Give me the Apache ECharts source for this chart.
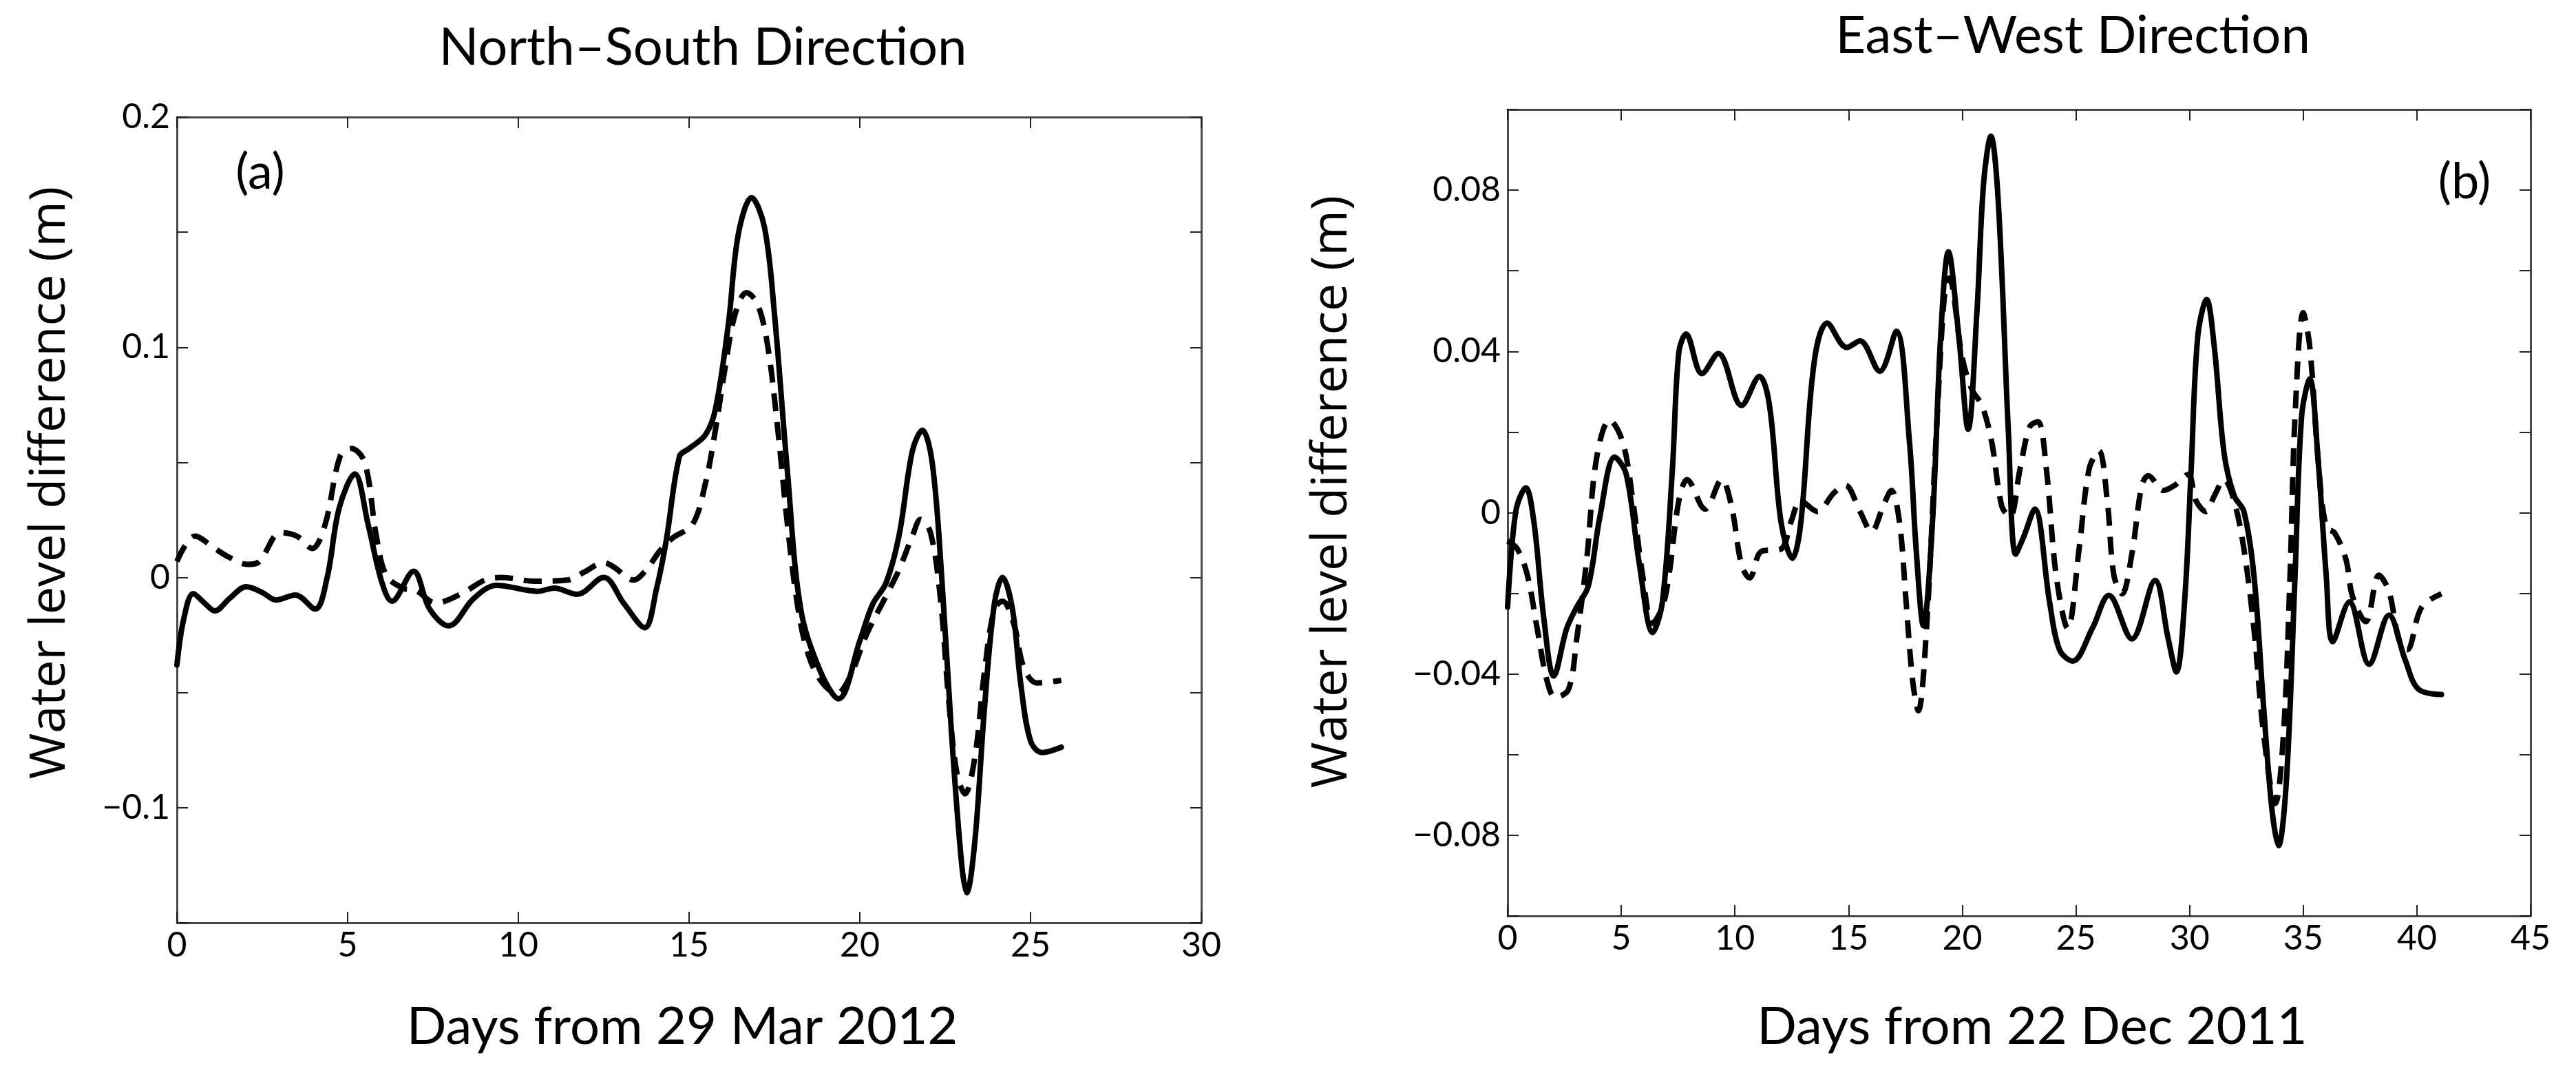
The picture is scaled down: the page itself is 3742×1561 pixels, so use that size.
<!DOCTYPE html>
<html>
<head>
<meta charset="utf-8">
<script src="https://cdn.jsdelivr.net/npm/echarts@6/dist/echarts.min.js"></script>
<style>
  html, body { margin: 0; padding: 0; background: #fff; }
  #main { width: 3742px; height: 1561px; }
</style>
</head>
<body>
<div id="main"></div>
<script>
// panel (a): North-South, days from 29 Mar 2012  [day, water level difference m]
var nsSolid = [
  [0, -0.038], [0.2, -0.018], [0.48, -0.007], [0.8, -0.011], [1.11, -0.0145], [1.55, -0.009],
  [2.03, -0.004], [2.5, -0.0065], [2.9, -0.0098], [3.47, -0.0076], [4.05, -0.0137], [4.4, 0.0],
  [4.75, 0.03], [5.21, 0.045], [5.6, 0.023], [6.0, -0.002], [6.3, -0.0103], [6.93, 0.0027],
  [7.4, -0.0137], [7.96, -0.021], [8.7, -0.009], [9.36, -0.0034], [10.57, -0.006], [11.05, -0.0046],
  [11.72, -0.0073], [12.5, 0.0], [13.1, -0.0115], [13.7, -0.0218], [14.05, -0.0046], [14.33, 0.016],
  [14.72, 0.0527], [15.0, 0.056], [15.48, 0.062], [15.77, 0.073], [16.15, 0.110], [16.44, 0.149],
  [16.83, 0.165], [17.21, 0.152], [17.5, 0.1145], [17.88, 0.046], [18.27, -0.0137], [18.85, -0.041],
  [19.38, -0.0527], [20.0, -0.0275], [20.38, -0.0115], [20.77, -0.0023], [21.15, 0.0183], [21.54, 0.055],
  [21.83, 0.064], [22.12, 0.050], [22.4, 0.0], [22.69, -0.0687], [22.98, -0.124], [23.13, -0.137],
  [23.37, -0.1145], [23.65, -0.057], [23.94, -0.0115], [24.18, 0.0], [24.47, -0.0137], [24.71, -0.0458],
  [25.0, -0.071], [25.34, -0.076], [25.9, -0.0737]
];
var nsDashed = [
  [0, 0.007], [0.53, 0.018], [1.11, 0.0126], [1.5, 0.009], [2.07, 0.0057], [2.41, 0.0069],
  [3.04, 0.0195], [3.52, 0.0179], [3.96, 0.0126], [4.34, 0.023], [4.78, 0.0527], [5.11, 0.056],
  [5.5, 0.050], [5.84, 0.018], [6.13, 0.001], [6.61, -0.0046], [7.0, -0.0057], [7.58, -0.011],
  [8.35, -0.0069], [9.02, -0.0011], [9.5, 0.0], [10.47, -0.0016], [11.44, -0.0011], [11.92, 0.0023],
  [12.5, 0.0064], [12.79, 0.0046], [13.37, -0.0011], [13.75, 0.0034], [14.14, 0.0115], [14.52, 0.0172],
  [15.1, 0.023], [15.48, 0.041], [15.77, 0.064], [16.06, 0.0916], [16.35, 0.1145], [16.68, 0.1237],
  [17.0, 0.119], [17.3, 0.1008], [17.6, 0.064], [17.88, 0.023], [18.17, -0.0115], [18.46, -0.032],
  [18.85, -0.0447], [19.33, -0.0504], [19.7, -0.0435], [20.19, -0.025], [20.77, -0.008], [21.15, 0.0034],
  [21.54, 0.018], [21.78, 0.0252], [22.07, 0.0195], [22.36, -0.009], [22.6, -0.0527], [22.84, -0.0847],
  [23.08, -0.094], [23.37, -0.078], [23.65, -0.041], [23.94, -0.0137], [24.18, -0.0103], [24.52, -0.0206],
  [24.8, -0.039], [25.19, -0.0458], [25.9, -0.0447]
];

// panel (b): East-West, days from 22 Dec 2011
var ewSolid = [
  [0, -0.0234], [0.36, 0.0003], [0.8, 0.0062], [1.16, -0.0024], [1.59, -0.026], [2.03, -0.0405],
  [2.6, -0.0287], [3.04, -0.0234], [3.55, -0.0182], [4.06, -0.001], [4.71, 0.0138], [5.22, 0.0095],
  [5.8, -0.0129], [6.38, -0.0297], [6.81, -0.0221], [7.25, 0.0108], [7.53, 0.0397], [7.85, 0.0443],
  [8.55, 0.0345], [9.27, 0.0395], [10.29, 0.0266], [11.08, 0.0338], [11.52, 0.0266], [12.03, -0.0024],
  [12.53, -0.0113], [12.9, -0.0024], [13.48, 0.0371], [14.06, 0.047], [14.92, 0.041], [15.5, 0.0426],
  [16.37, 0.0351], [17.1, 0.045], [17.68, 0.0174], [17.97, -0.0089], [18.29, -0.028], [18.69, -0.0024],
  [19.05, 0.0437], [19.39, 0.0647], [19.85, 0.0437], [20.26, 0.0207], [20.65, 0.0503], [20.94, 0.0818],
  [21.26, 0.0934], [21.59, 0.0766], [22.03, 0.02], [22.35, -0.0103], [22.7, -0.006], [23.19, 0.0009],
  [23.84, -0.0221], [24.28, -0.034], [24.86, -0.0368], [25.72, -0.0287], [26.45, -0.0205], [27.46, -0.0313],
  [28.48, -0.0168], [29.06, -0.0313], [29.42, -0.0395], [29.78, -0.0221], [30.07, 0.0108], [30.36, 0.0437],
  [30.75, 0.0529], [31.09, 0.041], [31.52, 0.0147], [31.96, 0.0042], [32.39, 0.0003], [32.83, -0.0155],
  [33.26, -0.0484], [33.62, -0.0734], [33.91, -0.0826], [34.27, -0.0655], [34.64, -0.0155], [34.93, 0.024],
  [35.29, 0.0332], [35.65, 0.0134], [36.01, -0.0155], [36.3, -0.032], [37.03, -0.0221], [37.9, -0.0376],
  [38.77, -0.0254], [39.49, -0.0366], [40.07, -0.0438], [41.08, -0.0451]
];
var ewDashed = [
  [0, -0.007], [0.43, -0.009], [0.87, -0.0155], [1.3, -0.0287], [1.74, -0.0418], [2.1, -0.0458],
  [2.68, -0.0438], [3.04, -0.0313], [3.48, -0.0116], [3.91, 0.0134], [4.49, 0.023], [5.07, 0.0174],
  [5.51, 0.0029], [5.94, -0.0155], [6.38, -0.0274], [6.81, -0.0234], [7.1, -0.0155], [7.53, 0.0029],
  [7.9, 0.0082], [8.69, 0.0009], [9.42, 0.0082], [9.85, 0.0016], [10.29, -0.0129], [10.65, -0.0162],
  [11.16, -0.0096], [12.03, -0.009], [12.46, -0.0024], [12.9, 0.0029], [13.62, 0.0003], [14.35, 0.0049],
  [14.85, 0.0068], [15.5, 0.0003], [16.01, -0.0047], [16.52, 0.0016], [16.88, 0.0055], [17.24, -0.0024],
  [17.53, -0.0221], [17.82, -0.0418], [18.07, -0.0491], [18.4, -0.0313], [18.84, 0.0174], [19.2, 0.0529],
  [19.42, 0.0582], [20.0, 0.0384], [20.43, 0.0305], [20.87, 0.0266], [21.3, 0.0174], [21.74, 0.0016],
  [22.1, -0.001], [22.54, 0.0108], [22.97, 0.0213], [23.33, 0.0226], [23.7, 0.0108], [24.13, -0.0155],
  [24.64, -0.0287], [25.14, -0.009], [25.58, 0.0108], [26.01, 0.0154], [26.38, 0.0029], [26.67, -0.0155],
  [27.03, -0.0201], [27.46, -0.0103], [27.9, 0.0068], [28.19, 0.0092], [28.84, 0.0055], [29.35, 0.0068],
  [29.93, 0.0095], [30.29, 0.0029], [30.72, 0.0003], [31.09, 0.0042], [31.52, 0.0082], [31.96, 0.0029],
  [32.39, -0.009], [32.83, -0.0287], [33.26, -0.055], [33.77, -0.0721], [34.13, -0.055], [34.42, -0.0155],
  [34.64, 0.024], [35.0, 0.0496], [35.29, 0.041], [35.65, 0.0134], [36.01, -0.0037], [36.38, -0.005],
  [36.88, -0.0116], [37.17, -0.0208], [37.75, -0.027], [38.33, -0.0155], [38.77, -0.0195], [39.2, -0.0313],
  [39.56, -0.034], [40.21, -0.0234], [41.08, -0.0201]
];

// axis ranges / ticks
var nsXRange = [0, 30, 5];
var nsYRange = [-0.15, 0.2, 0.05];
var ewXRange = [0, 45, 5];
var ewYRange = [-0.1, 0.1, 0.02];

var titles = ['North\u2013South Direction', 'East\u2013West Direction'];
var xNames = ['Days from 29 Mar 2012', 'Days from 22 Dec 2011'];
var yName = 'Water level difference (m)';
var panelTags = ['(a)', '(b)'];

var chart = echarts.init(document.getElementById('main'), null, { renderer: 'canvas' });

var lineCol = '#4a4a4a';
var tickFont = 'Lato';

function fmtNum(v) {
  var r = Math.round(v * 1000) / 1000;
  if (r === 0) return '0';
  return (r < 0 ? '\u2212' : '') + String(Math.abs(r));
}

function xAxisOf(grid, range, mirror) {
  return {
    type: 'value', gridIndex: grid, min: range[0], max: range[1], interval: range[2],
    position: mirror ? 'top' : 'bottom',
    axisLine: { show: true, onZero: false, lineStyle: { color: lineCol, width: 3 } },
    axisTick: { show: true, inside: true, length: 16, lineStyle: { color: '#222', width: 2 } },
    axisLabel: {
      show: !mirror, margin: 8, fontFamily: tickFont, fontSize: 50, color: '#000',
      formatter: function (v) { return fmtNum(v); }
    },
    splitLine: { show: false }
  };
}

function yAxisOf(grid, range, mirror, labelStep) {
  return {
    type: 'value', gridIndex: grid, min: range[0], max: range[1], interval: range[2],
    position: mirror ? 'right' : 'left',
    axisLine: { show: true, onZero: false, lineStyle: { color: lineCol, width: 3 } },
    axisTick: { show: true, inside: true, length: 16, lineStyle: { color: '#222', width: 2 } },
    axisLabel: {
      show: !mirror, margin: 10, fontFamily: tickFont, fontSize: 50, color: '#000',
      showMinLabel: true, showMaxLabel: true,
      formatter: function (v) {
        var k = v / labelStep;
        if (Math.abs(k - Math.round(k)) > 1e-6) return '';
        return fmtNum(v);
      }
    },
    splitLine: { show: false }
  };
}

function lineSeries(data, xi, yi, dashed) {
  return {
    type: 'line', xAxisIndex: xi, yAxisIndex: yi, data: data,
    smooth: 0.35, showSymbol: false, symbol: 'none',
    lineStyle: {
      color: '#000', width: 8,
      type: dashed ? [26, 16] : 'solid',
      cap: dashed ? 'butt' : 'round', join: 'round'
    },
    z: dashed ? 3 : 2
  };
}

function textEl(x, y, str, font, rot) {
  return {
    type: 'text', x: x, y: y, rotation: rot || 0, z: 10,
    style: {
      text: str, font: font, fill: '#000',
      align: 'center', verticalAlign: 'middle',
      textAlign: 'center', textVerticalAlign: 'middle'
    }
  };
}

var option = {
  animation: false,
  backgroundColor: '#fff',
  grid: [
    { left: 257, top: 170, width: 1488, height: 1170 },
    { left: 2190, top: 159, width: 1486, height: 1171 }
  ],
  xAxis: [
    xAxisOf(0, nsXRange, false), xAxisOf(0, nsXRange, true),
    xAxisOf(1, ewXRange, false), xAxisOf(1, ewXRange, true)
  ],
  yAxis: [
    yAxisOf(0, nsYRange, false, 0.1), yAxisOf(0, nsYRange, true, 0.1),
    yAxisOf(1, ewYRange, false, 0.04), yAxisOf(1, ewYRange, true, 0.04)
  ],
  series: [
    lineSeries(nsSolid, 0, 0, false),
    lineSeries(nsDashed, 0, 0, true),
    lineSeries(ewSolid, 2, 2, false),
    lineSeries(ewDashed, 2, 2, true)
  ],
  graphic: [
    textEl(1021, 69, titles[0], '76px Lato'),
    textEl(3011, 52, titles[1], '76px Lato'),
    textEl(991, 1491, xNames[0], '76px Lato'),
    textEl(2952, 1491, xNames[1], '76px Lato'),
    textEl(73, 701, yName, '72px "Open Sans"', Math.PI / 2),
    textEl(1935, 714, yName, '72px "Open Sans"', Math.PI / 2),
    textEl(378, 251, panelTags[0], '72px Lato'),
    textEl(3580, 265, panelTags[1], '72px Lato')
  ]
};

chart.setOption(option);
</script>
</body>
</html>
